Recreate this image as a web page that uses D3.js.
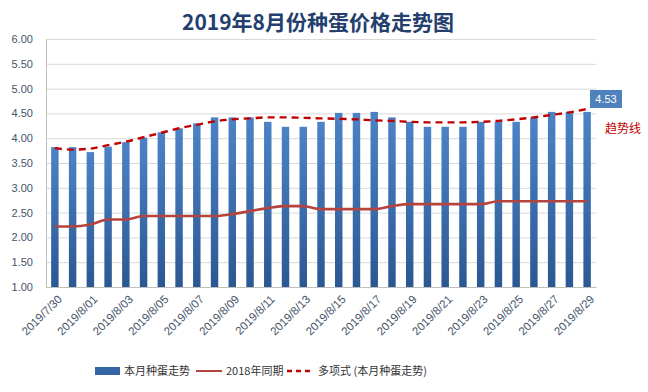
<!DOCTYPE html>
<html>
<head>
<meta charset="utf-8">
<script src="https://cdn.jsdelivr.net/npm/d3@7"></script>
<style>
  body { margin: 0; background: #fff; }
  text { font-family: "Noto Sans CJK SC", "Liberation Sans", sans-serif; }
</style>
</head>
<body>
<div id="graf"></div>
<script>
// fechas (31 dias)
const fechas = ["2019/7/30","2019/7/31","2019/8/01","2019/8/02","2019/8/03","2019/8/04","2019/8/05","2019/8/06",
  "2019/8/07","2019/8/08","2019/8/09","2019/8/10","2019/8/11","2019/8/12","2019/8/13","2019/8/14","2019/8/15",
  "2019/8/16","2019/8/17","2019/8/18","2019/8/19","2019/8/20","2019/8/21","2019/8/22","2019/8/23","2019/8/24",
  "2019/8/25","2019/8/26","2019/8/27","2019/8/28","2019/8/29"]
const precioMes = [3.82,3.82,3.72,3.83,3.92,4.01,4.12,4.20,4.30,4.42,4.42,4.42,4.33,4.23,4.23,4.33,4.51,
  4.51,4.53,4.42,4.33,4.23,4.23,4.23,4.33,4.33,4.33,4.42,4.53,4.53,4.53]
const precio2018 = [2.22,2.22,2.26,2.36,2.36,2.43,2.43,2.43,2.43,2.43,2.47,2.53,2.59,2.63,2.63,2.57,2.57,
  2.57,2.57,2.63,2.67,2.67,2.67,2.67,2.67,2.73,2.73,2.73,2.73,2.73,2.73]
const tendencia = [3.80,3.77,3.79,3.86,3.93,4.02,4.11,4.20,4.27,4.34,4.38,4.40,4.42,4.42,4.41,4.40,4.39,
  4.38,4.36,4.35,4.33,4.32,4.32,4.32,4.33,4.35,4.38,4.42,4.47,4.52,4.59]
const yTicks = [1.0,1.5,2.0,2.5,3.0,3.5,4.0,4.5,5.0,5.5,6.0]

const anchoTotal = 648, altoTotal = 392
const m = { left: 46, top: 39, right: 52, bottom: 105 }
const ancho = anchoTotal - m.left - m.right
const alto = altoTotal - m.top - m.bottom

const svg = d3.select("#graf").append("svg")
  .attr("width", anchoTotal).attr("height", altoTotal)

const grad = svg.append("defs").append("linearGradient")
  .attr("id", "barGrad").attr("x1", 0).attr("y1", 0).attr("x2", 0).attr("y2", 1)
grad.append("stop").attr("offset", "0%").attr("stop-color", "#4C83C6")
grad.append("stop").attr("offset", "100%").attr("stop-color", "#2B5893")

svg.append("text")
  .attr("x", 318).attr("y", 30)
  .attr("text-anchor", "middle")
  .attr("font-size", 21).attr("font-weight", "bold")
  .attr("fill", "#243F6E")
  .text("2019年8月份种蛋价格走势图")

const g = svg.append("g").attr("transform", `translate(${m.left}, ${m.top})`)

const x = d3.scaleBand().domain(fechas).range([0, ancho]).paddingInner(0.58).paddingOuter(0.29)
const y = d3.scaleLinear().domain([1, 6]).range([alto, 0])
const cx = (d) => x(d) + x.bandwidth() / 2

// grid
g.append("g")
  .call(d3.axisLeft(y).tickValues(yTicks).tickSize(-ancho).tickFormat(""))
  .call(s => s.select(".domain").remove())
  .selectAll("line").attr("stroke", "#D9D9D9")

// y axis labels
const yAxis = g.append("g")
  .call(d3.axisLeft(y).tickValues(yTicks).tickSize(0).tickPadding(13).tickFormat(d3.format(".2f")))
yAxis.select(".domain").attr("stroke", "#BFBFBF")
yAxis.selectAll("text").attr("font-size", 11).attr("fill", "#44546A")
  .style("font-family", "'Liberation Sans', sans-serif")

// bars
g.selectAll("rect.bar").data(precioMes).enter().append("rect")
  .attr("class", "bar")
  .attr("x", (d, i) => x(fechas[i]))
  .attr("y", (d) => y(d))
  .attr("width", x.bandwidth())
  .attr("height", (d) => alto - y(d))
  .attr("fill", "url(#barGrad)")

// x axis
const xAxis = g.append("g").attr("transform", `translate(0, ${alto})`)
  .call(d3.axisBottom(x).tickValues(fechas.filter((d, i) => i % 2 === 0)).tickSize(0))
xAxis.select(".domain").attr("stroke", "#BFBFBF")
xAxis.selectAll("text")
  .attr("font-size", 11.5).attr("fill", "#44546A")
  .style("font-family", "'Liberation Sans', sans-serif")
  .attr("text-anchor", "end")
  .attr("dy", "0.35em")
  .attr("transform", "translate(5,10) rotate(-45)")
  .attr("y", 0).attr("x", 0)

// linea 2018
const linea = d3.line().x((d, i) => cx(fechas[i])).y((d) => y(d)).curve(d3.curveMonotoneX)
g.append("path").datum(precio2018)
  .attr("d", linea).attr("fill", "none")
  .attr("stroke", "#B5443F").attr("stroke-width", 2.6)

// tendencia
g.append("path").datum(tendencia)
  .attr("d", linea).attr("fill", "none")
  .attr("stroke", "#C00000").attr("stroke-width", 2.4)
  .attr("stroke-dasharray", "7,5")

// etiqueta 4.53
const ult = precioMes[precioMes.length - 1]
const etq = svg.append("g").attr("transform", `translate(590, 90)`)
etq.append("rect").attr("width", 32).attr("height", 18).attr("fill", "#4F81BD")
etq.append("text").attr("x", 16).attr("y", 13).attr("text-anchor", "middle")
  .attr("font-size", 11).attr("fill", "#fff")
  .style("font-family", "'Liberation Sans', sans-serif")
  .text(ult.toFixed(2))

svg.append("text").attr("x", 605).attr("y", 133)
  .attr("font-size", 12).attr("fill", "#C00000")
  .text("趋势线")

// leyenda
const ley = svg.append("g").attr("transform", "translate(0, 371)")
ley.append("rect").attr("x", 95).attr("y", -4).attr("width", 25).attr("height", 8).attr("fill", "#3565A5")
ley.append("text").attr("x", 124).attr("y", 4).attr("font-size", 11).attr("fill", "#333").text("本月种蛋走势")
ley.append("line").attr("x1", 196).attr("x2", 222).attr("stroke", "#B5443F").attr("stroke-width", 2)
ley.append("text").attr("x", 226).attr("y", 4).attr("font-size", 11).attr("fill", "#333").text("2018年同期")
ley.append("line").attr("x1", 287).attr("x2", 314).attr("stroke", "#C00000").attr("stroke-width", 2.4)
  .attr("stroke-dasharray", "5,4")
ley.append("text").attr("x", 318).attr("y", 4).attr("font-size", 11).attr("fill", "#333").text("多项式 (本月种蛋走势)")
</script>
</body>
</html>
